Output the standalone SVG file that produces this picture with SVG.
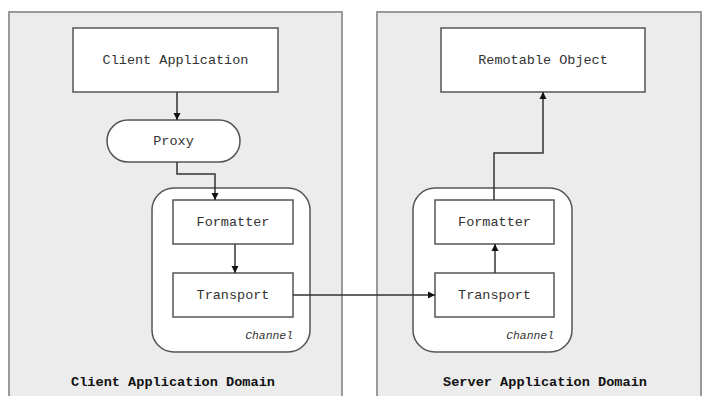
<svg xmlns="http://www.w3.org/2000/svg" width="703" height="396" viewBox="0 0 703 396">
<defs>
<marker id="ah" viewBox="0 0 10 10" refX="10" refY="5" markerWidth="7" markerHeight="9" orient="auto" markerUnits="userSpaceOnUse">
<path d="M0,0 L10,5 L0,10 z" fill="#111"/>
</marker>
</defs>
<style>
.panel{fill:#ececec;stroke:#9a9a9a;stroke-width:2}
.box{fill:#ffffff;stroke:#555;stroke-width:1.5}
.chan{fill:#ffffff;stroke:#555;stroke-width:1.5}
.lbl{font-family:"Liberation Mono","DejaVu Sans Mono",monospace;font-size:13.5px;fill:#333;text-anchor:middle}
.dom{font-family:"Liberation Mono","DejaVu Sans Mono",monospace;font-size:13.6px;font-weight:bold;fill:#111;text-anchor:middle}
.ch{font-family:"Liberation Mono","DejaVu Sans Mono",monospace;font-size:11.4px;font-style:italic;fill:#333;text-anchor:end}
.con{fill:none;stroke:#333;stroke-width:1.5;marker-end:url(#ah)}
</style>
<rect x="0" y="0" width="703" height="396" fill="#ffffff"/>
<g id="client-domain">
<rect class="panel" x="9" y="12" width="333" height="390"/>
<text class="dom" x="173" y="386">Client Application Domain</text>
</g>
<g id="server-domain">
<rect class="panel" x="377" y="12" width="324" height="390"/>
<text class="dom" x="545" y="386">Server Application Domain</text>
</g>
<g id="client-channel">
<rect class="chan" x="152" y="188" width="158" height="164" rx="22"/>
<text class="ch" x="293" y="339">Channel</text>
</g>
<g id="server-channel">
<rect class="chan" x="413" y="188" width="159" height="164" rx="22"/>
<text class="ch" x="554" y="339">Channel</text>
</g>
<g id="client-app">
<rect class="box" x="73" y="28" width="205" height="64"/>
<text class="lbl" x="175.5" y="64">Client Application</text>
</g>
<g id="proxy">
<rect class="box" x="107" y="120" width="133" height="42" rx="21"/>
<text class="lbl" x="173.5" y="145">Proxy</text>
</g>
<g id="client-formatter">
<rect class="box" x="173" y="200" width="120" height="44"/>
<text class="lbl" x="233" y="226">Formatter</text>
</g>
<g id="client-transport">
<rect class="box" x="173" y="273" width="120" height="44"/>
<text class="lbl" x="233" y="299">Transport</text>
</g>
<g id="remotable-object">
<rect class="box" x="441" y="28" width="204" height="64"/>
<text class="lbl" x="543" y="64">Remotable Object</text>
</g>
<g id="server-formatter">
<rect class="box" x="435" y="200" width="119" height="44"/>
<text class="lbl" x="494.5" y="226">Formatter</text>
</g>
<g id="server-transport">
<rect class="box" x="435" y="273" width="119" height="44"/>
<text class="lbl" x="494.5" y="299">Transport</text>
</g>
<g id="connectors">
<path class="con" d="M177,92 L177,120"/>
<path class="con" d="M177,162 L177,174 L215,174 L215,200"/>
<path class="con" d="M235,244 L235,273"/>
<path class="con" d="M293,295 L435,295"/>
<path class="con" d="M495,273 L495,244"/>
<path class="con" d="M494,200 L494,153 L543,153 L543,92"/>
</g>
</svg>
